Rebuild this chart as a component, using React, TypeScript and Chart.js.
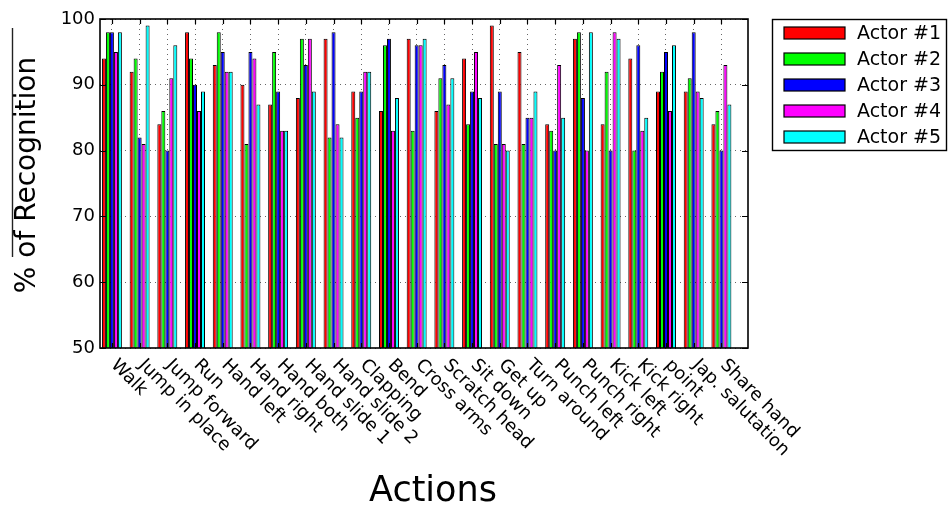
import { useEffect, useRef } from 'react';
import { Chart, registerables } from 'chart.js';

Chart.register(...registerables);

const actions = [
  'Walk', 'Jump in place', 'Jump forward', 'Run', 'Hand left', 'Hand right',
  'Hand both', 'Hand slide 1', 'Hand slide 2', 'Clapping', 'Bend', 'Cross arms',
  'Scratch head', 'Sit down', 'Get up', 'Turn around', 'Punch left', 'Punch right',
  'Kick left', 'Kick right', 'point', 'Jap. salutation', 'Share hand',
];

const actorNames = ['Actor #1', 'Actor #2', 'Actor #3', 'Actor #4', 'Actor #5'];
const actorColors = ['#ff0000', '#00ff00', '#0000ff', '#ff00ff', '#00ffff'];

const actor1 = [94, 92, 84, 98, 93, 90, 87, 88, 97, 89, 86, 97, 86, 94, 99, 95, 84, 97, 84, 94, 89, 89, 84];
const actor2 = [98, 94, 86, 94, 98, 81, 95, 97, 82, 85, 96, 83, 91, 84, 81, 81, 83, 98, 92, 80, 92, 91, 86];
const actor3 = [98, 82, 80, 90, 95, 95, 89, 93, 98, 89, 97, 96, 93, 89, 89, 85, 80, 88, 80, 96, 95, 98, 80];
const actor4 = [95, 81, 91, 86, 92, 94, 83, 97, 84, 92, 83, 96, 87, 95, 81, 85, 93, 80, 98, 83, 86, 89, 93];
const actor5 = [98, 99, 96, 89, 92, 87, 83, 89, 82, 92, 88, 97, 91, 88, 80, 89, 85, 98, 97, 85, 96, 88, 87];

const yTicks = [50, 60, 70, 80, 90, 100];

const FONT = "'DejaVu Sans', sans-serif";

// Frame, inward ticks, rotated category labels, titles and legend
const decorations = {
  id: 'decorations',
  afterDraw(chart: any) {
    const { ctx, chartArea } = chart;
    const { left, right, top, bottom } = chartArea;
    const xs = chart.scales.x;
    const ys = chart.scales.y;
    ctx.save();

    // inward tick marks
    ctx.strokeStyle = '#000';
    ctx.lineWidth = 1.2;
    ctx.beginPath();
    yTicks.forEach((v) => {
      const y = Math.round(ys.getPixelForValue(v)) + 0.5;
      ctx.moveTo(left, y); ctx.lineTo(left + 6, y);
      ctx.moveTo(right, y); ctx.lineTo(right - 6, y);
    });
    actions.forEach((_, i) => {
      const x = Math.round(xs.getPixelForValue(i)) + 0.5;
      ctx.moveTo(x, top); ctx.lineTo(x, top + 5);
      ctx.moveTo(x, bottom); ctx.lineTo(x, bottom - 5);
    });
    ctx.stroke();

    // axes frame
    ctx.lineWidth = 1.6;
    ctx.strokeRect(left, top, right - left, bottom - top);

    // category labels, rotated clockwise and starting at their tick
    const fs = 18;
    ctx.fillStyle = '#000';
    ctx.font = `${fs}px ${FONT}`;
    ctx.textAlign = 'left';
    ctx.textBaseline = 'top';
    const a = Math.PI / 4;
    actions.forEach((name, i) => {
      const x = xs.getPixelForValue(i);
      ctx.save();
      ctx.translate(x - 7 + 0.83 * fs, bottom + 8);
      ctx.rotate(a);
      ctx.fillText(name, 0, 0);
      ctx.restore();
    });

    // axis titles
    ctx.textAlign = 'center';
    ctx.textBaseline = 'alphabetic';
    ctx.font = `35px ${FONT}`;
    ctx.fillText('Actions', 433, 501);

    ctx.save();
    ctx.translate(35, 175);
    ctx.rotate(-Math.PI / 2);
    ctx.font = `28px ${FONT}`;
    ctx.fillText('% of Recognition', 0, 0);
    ctx.restore();

    ctx.strokeStyle = '#222';
    ctx.lineWidth = 1.4;
    ctx.beginPath();
    ctx.moveTo(12.5, 28);
    ctx.lineTo(12.5, 257);
    ctx.stroke();

    // legend
    const lx = 772, ly = 19, lw = 174, lh = 131;
    ctx.fillStyle = '#fff';
    ctx.fillRect(lx, ly, lw, lh);
    ctx.strokeStyle = '#000';
    ctx.lineWidth = 1.4;
    ctx.strokeRect(lx + 0.5, ly + 0.5, lw, lh);
    ctx.font = `19px ${FONT}`;
    ctx.textAlign = 'left';
    ctx.textBaseline = 'middle';
    chart.data.datasets.forEach((ds: any, i: number) => {
      const cy = 33 + i * 26;
      ctx.fillStyle = ds.backgroundColor;
      ctx.fillRect(784, cy - 6, 61, 12);
      ctx.strokeStyle = '#000';
      ctx.lineWidth = 1.2;
      ctx.strokeRect(784, cy - 6, 61, 12);
      ctx.fillStyle = '#000';
      ctx.fillText(ds.label, 857, cy + 1);
    });

    ctx.restore();
  },
};

export default function App() {
  const canvasRef = useRef<HTMLCanvasElement | null>(null);

  useEffect(() => {
    const canvas = canvasRef.current;
    if (!canvas) return;
    const series = [actor1, actor2, actor3, actor4, actor5];
    const chart = new Chart(canvas, {
      type: 'bar',
      data: {
        datasets: series.map((vals, k) => ({
          label: actorNames[k],
          data: vals.map((v, i) => ({ x: i, y: v })),
          backgroundColor: actorColors[k],
          borderColor: '#000',
          borderWidth: 1,
          borderSkipped: false,
          categoryPercentage: 0.72,
          barPercentage: 1,
        })),
      },
      options: {
        animation: false,
        responsive: false,
        maintainAspectRatio: false,
        layout: { padding: { top: 19, right: 201, left: 0, bottom: 0 } },
        plugins: {
          legend: { display: false },
          tooltip: { enabled: false },
          title: { display: false },
        },
        scales: {
          x: {
            type: 'linear',
            min: -0.43,
            max: 22.96,
            offset: false,
            z: 1,
            grid: { offset: false, color: 'rgba(0,0,0,0.6)', lineWidth: 1, drawTicks: false },
            border: { display: false, dash: [1, 4] },
            ticks: { display: false, stepSize: 1 },
            afterBuildTicks: (s: any) => { s.ticks = actions.map((_, i) => ({ value: i })); },
            afterFit: (s: any) => { s.height = 506 - 348; },
          },
          y: {
            min: 50,
            max: 100,
            z: 1,
            grid: { color: 'rgba(0,0,0,0.6)', lineWidth: 1, drawTicks: false },
            border: { display: false, dash: [1, 4] },
            ticks: {
              stepSize: 10,
              color: '#000',
              padding: 5,
              font: { family: FONT, size: 18 },
            },
            afterFit: (s: any) => { s.width = 100; },
          },
        },
      } as any,
      plugins: [decorations],
    });
    return () => chart.destroy();
  }, []);

  return (
    <div style={{ position: 'absolute', left: 0, top: 0, width: 949, height: 506, background: '#fff' }}>
      <canvas ref={canvasRef} width={949} height={506} />
    </div>
  );
}
